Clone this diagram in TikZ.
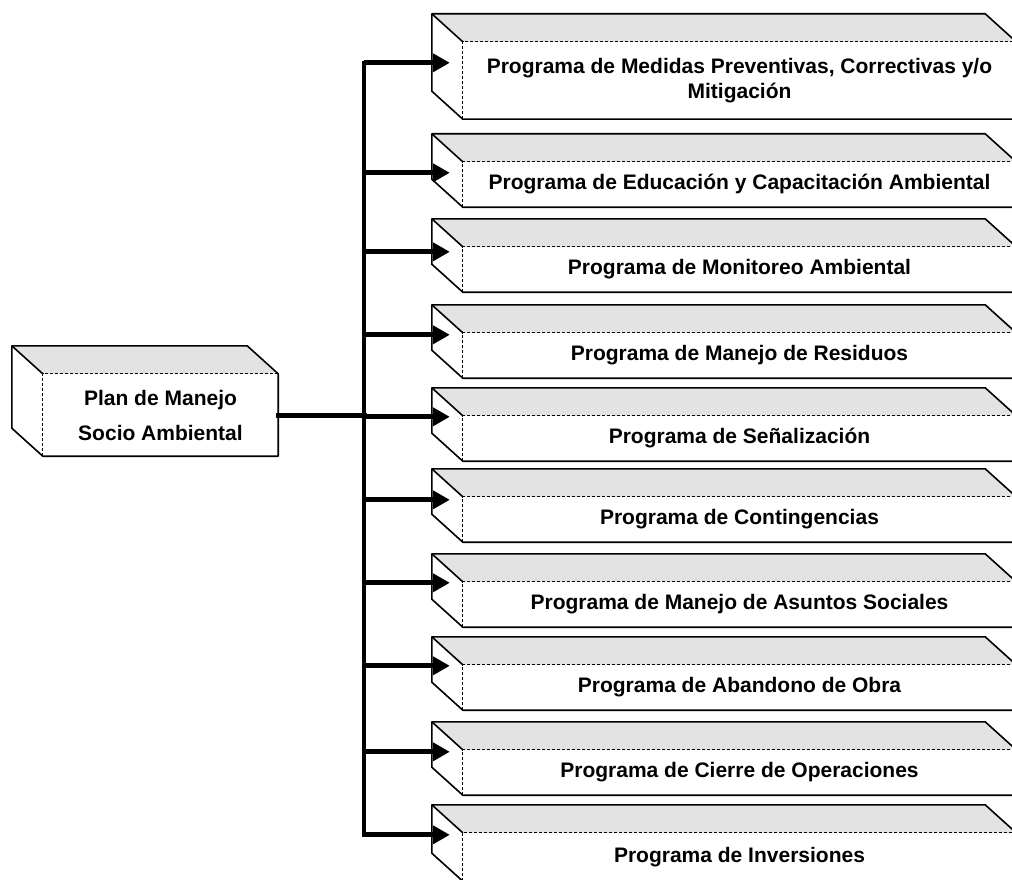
\documentclass[tikz,border=0pt]{standalone}
\usepackage{fontspec}
\setmainfont{Liberation Sans}
\usetikzlibrary{arrows.meta}

\begin{document}
\begin{tikzpicture}[
      x = 1pt, y = -1pt,
      feed/.style={-{Triangle[length=17pt, width=18pt]}, line width=5pt},
      spine/.style={line width=4.5pt, line cap=rect},
      face/.style={
        minimum width = 553pt,
        minimum height = 45pt,
        inner sep = 0pt,
        align = center,
        font = \bfseries\fontsize{21}{25}\selectfont,
      },
      planface/.style={
        face,
        minimum width = 235pt,
        minimum height = 82pt,
        font = \bfseries\fontsize{21}{35}\selectfont,
      },
      lid/.style={fill = black!11},
      rim/.style={line width = 1.6pt, line join = round},
      seam/.style={line width = 0.8pt, densely dashed},
    ]
    \useasboundingbox (0, 0) rectangle (1012, 880);

    \node[planface] (plan) at (160.5, 415) {Plan de Manejo\\Socio Ambiental};

    \node[face, minimum height = 77pt] (p1) at (739.5, 80.5)
      {Programa de Medidas Preventivas, Correctivas y/o\\Mitigación};
    \node[face] (p2) at (739.5, 184.5)
      {Programa de Educación y Capacitación Ambiental};
    \node[face] (p3) at (739.5, 269.5) {Programa de Monitoreo Ambiental};
    \node[face] (p4) at (739.5, 355.5) {Programa de Manejo de Residuos};
    \node[face] (p5) at (739.5, 438.5) {Programa de Señalización};
    \node[face] (p6) at (739.5, 519.5) {Programa de Contingencias};
    \node[face] (p7) at (739.5, 604.5) {Programa de Manejo de Asuntos Sociales};
    \node[face] (p8) at (739.5, 687.5) {Programa de Abandono de Obra};
    \node[face] (p9) at (739.5, 772.5) {Programa de Cierre de Operaciones};
    \node[face, minimum height = 48pt] (p10) at (739.5, 857)
      {Programa de Inversiones};

    % Top and side of each box, set back up and to the left of its front.
    \foreach \n in {plan, p1, p2, p3, p4, p5, p6, p7, p8, p9, p10} {
      \fill[lid] (\n.north west) -- (\n.north east) -- ++(-31, -28)
        -- ([shift={(-31, -28)}]\n.north west) -- cycle;
      \draw[rim] ([shift={(-31, -28)}]\n.north west)
        -- ([shift={(-31, -28)}]\n.north east) -- (\n.north east)
        -- (\n.south east) -- (\n.south west)
        -- ([shift={(-31, -28)}]\n.south west) -- cycle;
      \draw[rim] ([shift={(-31, -28)}]\n.north west) -- (\n.north west);
      \draw[seam] (\n.south west) |- (\n.north east);
    }

    \coordinate (trunk) at (364, 0);
    \foreach \n/\d in {p1/21, p2/11, p3/5, p4/2, p5/1, p6/3, p7/1, p8/1, p9/2, p10/2} {
      \coordinate (\n-in) at ([xshift = -13pt, yshift = -\d pt]\n.north west);
    }

    \draw[spine] (trunk |- p1-in) -- (trunk |- p10-in);
    \draw[spine, line width = 5pt] (plan.east) -- (trunk |- plan.east);
    \foreach \n in {p1, p2, p3, p4, p5, p6, p7, p8, p9, p10}
      \draw[feed] (trunk |- \n-in) -- (\n-in);
  \end{tikzpicture}
\end{document}
